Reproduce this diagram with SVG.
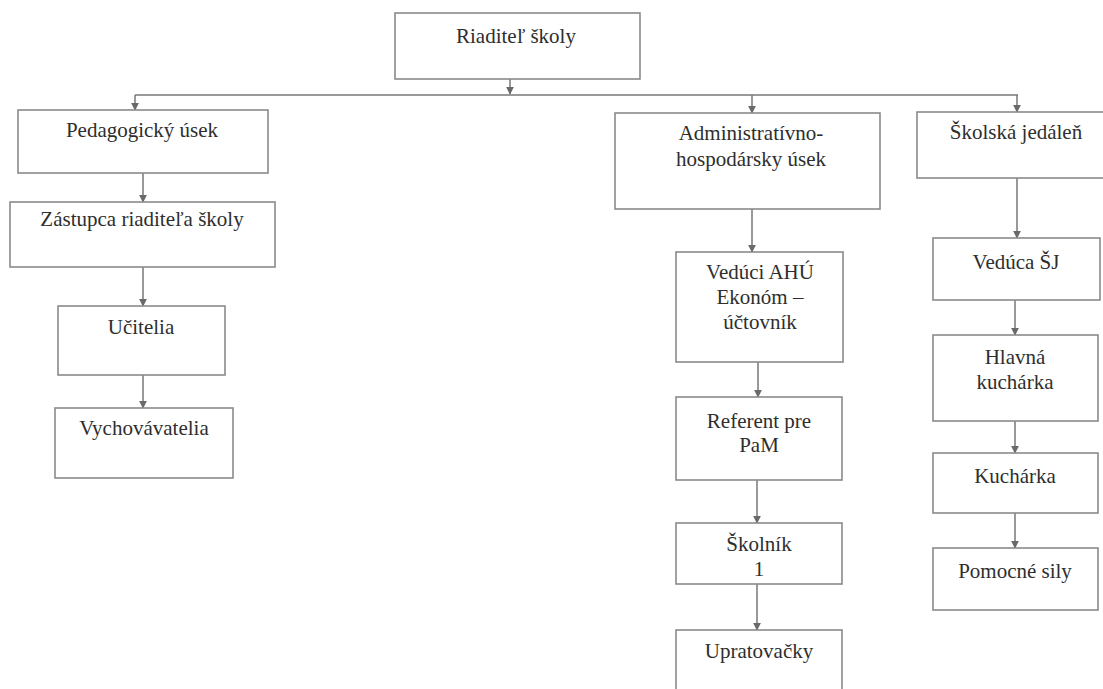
<svg xmlns="http://www.w3.org/2000/svg" width="1103" height="689" viewBox="0 0 1103 689">
<defs>
<marker id="ah" viewBox="0 0 10 10" refX="9" refY="5" markerWidth="8" markerHeight="8" markerUnits="userSpaceOnUse" orient="auto">
<path d="M0,0 L10,5 L0,10 z" fill="#6a6a6a"/>
</marker>
</defs>
<style>
.box{fill:#fff;stroke:#8a8a8a;stroke-width:1.6}
.t{font-family:"Liberation Serif","Times New Roman",serif;font-size:21px;fill:#2e2e2e;text-anchor:middle}
.c{stroke:#777;stroke-width:1.5;fill:none}
.ca{stroke:#777;stroke-width:1.5;fill:none;marker-end:url(#ah)}
</style>
<rect width="1103" height="689" fill="#fff"/>
<g id="connectors">
<path class="ca" d="M510,79 V94"/>
<path class="c" d="M135,95 H1018"/>
<path class="ca" d="M135,95 V110"/>
<path class="ca" d="M752,95 V113"/>
<path class="ca" d="M1017,95 V112"/>
<path class="ca" d="M143,173 V202"/>
<path class="ca" d="M143,267 V306"/>
<path class="ca" d="M143,375 V408"/>
<path class="ca" d="M752,209 V252"/>
<path class="ca" d="M758,362 V397"/>
<path class="ca" d="M757,480 V523"/>
<path class="ca" d="M757,584 V630"/>
<path class="ca" d="M1017,178 V238"/>
<path class="ca" d="M1015,300 V335"/>
<path class="ca" d="M1015,421 V453"/>
<path class="ca" d="M1015,513 V548"/>
</g>
<g id="n-riaditel"><rect class="box" x="395" y="13" width="245" height="66"/><text class="t" x="516" y="43">Riaditeľ školy</text></g>
<g id="n-pedagogicky"><rect class="box" x="18" y="110" width="250" height="63"/><text class="t" x="142" y="137">Pedagogický úsek</text></g>
<g id="n-zastupca"><rect class="box" x="10" y="202" width="265" height="65"/><text class="t" x="142" y="226">Zástupca riaditeľa školy</text></g>
<g id="n-ucitelia"><rect class="box" x="58" y="306" width="167" height="69"/><text class="t" x="141" y="334">Učitelia</text></g>
<g id="n-vychovavatelia"><rect class="box" x="55" y="408" width="178" height="70"/><text class="t" x="144" y="435">Vychovávatelia</text></g>
<g id="n-ahu"><rect class="box" x="615" y="113" width="265" height="96"/><text class="t" x="751" y="140">Administratívno-</text><text class="t" x="751" y="166">hospodársky úsek</text></g>
<g id="n-veduci"><rect class="box" x="676" y="252" width="167" height="110"/><text class="t" x="760" y="279">Vedúci AHÚ</text><text class="t" x="760" y="304">Ekonóm –</text><text class="t" x="760" y="329">účtovník</text></g>
<g id="n-referent"><rect class="box" x="676" y="397" width="166" height="83"/><text class="t" x="759" y="428">Referent pre</text><text class="t" x="759" y="452">PaM</text></g>
<g id="n-skolnik"><rect class="box" x="676" y="523" width="166" height="61"/><text class="t" x="759" y="551">Školník</text><text class="t" x="759" y="576">1</text></g>
<g id="n-upratovacky"><rect class="box" x="676" y="630" width="166" height="70"/><text class="t" x="759" y="658">Upratovačky</text></g>
<g id="n-jedalen"><rect class="box" x="917" y="112" width="195" height="66"/><text class="t" x="1016" y="139">Školská jedáleň</text></g>
<g id="n-veduca"><rect class="box" x="933" y="238" width="167" height="62"/><text class="t" x="1016" y="269">Vedúca ŠJ</text></g>
<g id="n-hlavna"><rect class="box" x="933" y="335" width="165" height="86"/><text class="t" x="1015" y="364">Hlavná</text><text class="t" x="1015" y="389">kuchárka</text></g>
<g id="n-kucharka"><rect class="box" x="933" y="453" width="165" height="60"/><text class="t" x="1015" y="483">Kuchárka</text></g>
<g id="n-pomocne"><rect class="box" x="933" y="548" width="165" height="62"/><text class="t" x="1015" y="578">Pomocné sily</text></g>
</svg>
